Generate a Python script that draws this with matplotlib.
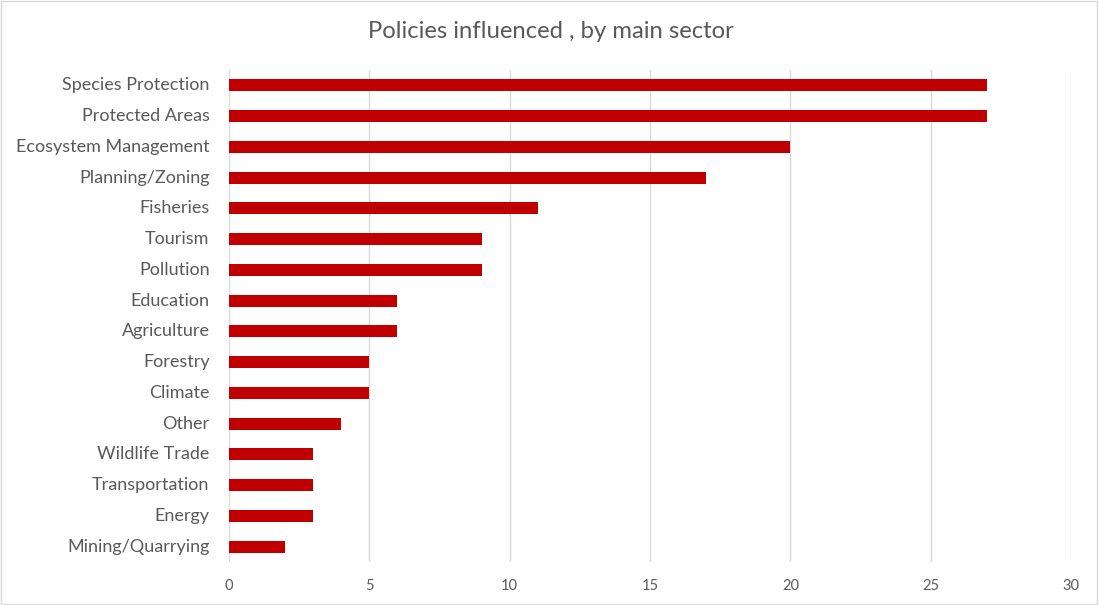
import matplotlib
matplotlib.use("Agg")
import matplotlib.pyplot as plt
from matplotlib.patches import Rectangle

sectors = [
    "Species Protection", "Protected Areas", "Ecosystem Management",
    "Planning/Zoning", "Fisheries", "Tourism", "Pollution", "Education",
    "Agriculture", "Forestry", "Climate", "Other", "Wildlife Trade",
    "Transportation", "Energy", "Mining/Quarrying",
]
counts = [27, 27, 20, 17, 11, 9, 9, 6, 6, 5, 5, 4, 3, 3, 3, 2]
xticks = [0, 5, 10, 15, 20, 25, 30]

BAR = "#C00000"
TEXT = "#595959"
GRID = "#D9D9D9"

plt.rcParams["font.family"] = ["Lato", "DejaVu Sans"]

fig = plt.figure(figsize=(10.99, 6.05), dpi=100)
ax = fig.add_axes([229 / 1099, 1 - 562 / 605, (1071 - 229) / 1099, (562 - 70) / 605])

y = list(range(len(sectors)))
ax.barh(y, counts, height=0.39, color=BAR, zorder=3)
ax.set_ylim(len(sectors) - 0.5, -0.5)
ax.set_xlim(0, 30)
ax.set_yticks(y)
ax.set_yticklabels(sectors, fontsize=13, color=TEXT, va="center")
ax.set_xticks(xticks)
ax.set_xticklabels([str(t) for t in xticks], fontsize=10.5, color=TEXT)
ax.tick_params(axis="y", length=0, pad=14)
ax.tick_params(axis="x", length=0, pad=12)
ax.grid(axis="x", color=GRID, linewidth=1, zorder=0)
for s in ax.spines.values():
    s.set_visible(False)

fig.text(551 / 1099, 1 - 31 / 605, "Policies influenced , by main sector",
         ha="center", va="center", fontsize=17.2, color=TEXT)

# thin frame around the chart area
fig.patches.append(Rectangle((0.0005, 0.001), 0.998, 0.997, transform=fig.transFigure,
                             fill=False, edgecolor=GRID, linewidth=1))

fig.savefig("out.png", dpi=100)
